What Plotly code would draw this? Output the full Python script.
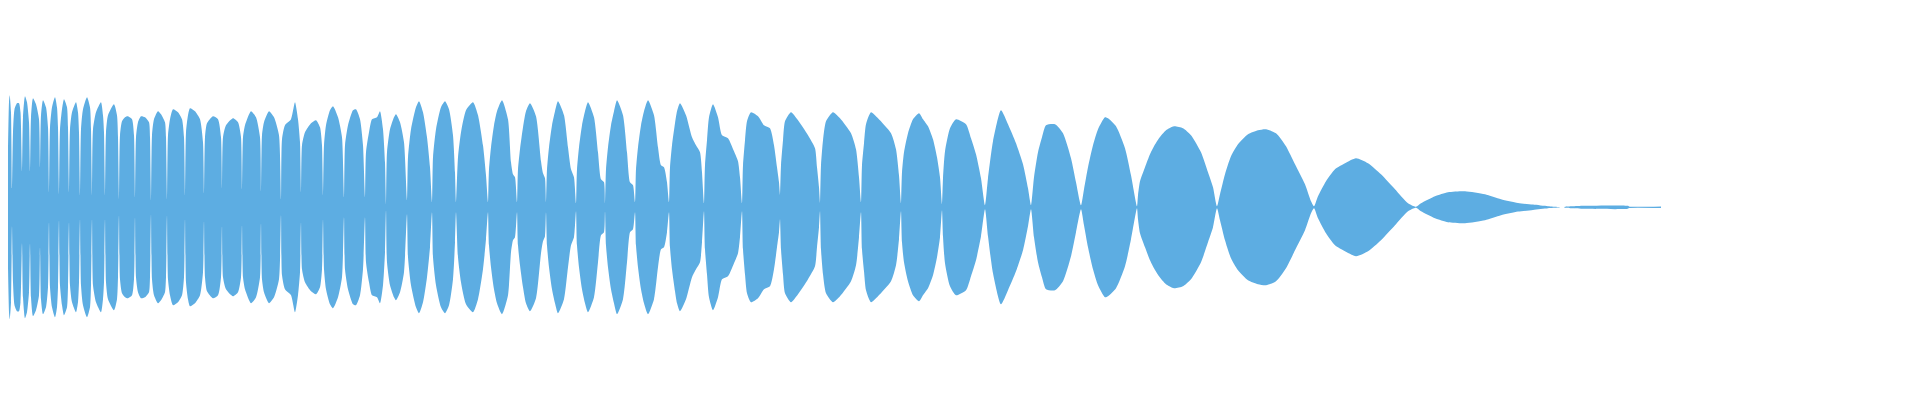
import plotly.graph_objects as go

# Upper envelope of the waveform (time in sample columns, peak amplitude).
t = [
    0, 1, 1.7, 3, 4,
    5, 6.5, 9, 11, 12.5, 14,
    15, 17, 19, 21, 22,
    23, 25, 28, 31, 32,
    33, 35, 38, 40, 41,
    42, 44, 47, 49, 50, 51,
    52, 54, 56, 59, 60, 61,
    62, 64, 68, 70, 71, 72,
    73, 75, 79, 82, 83, 84,
    85, 88, 93, 95, 96, 97,
    98, 100, 106, 109, 110, 111,
    112, 114, 117, 120, 124, 126, 127,
    128, 130, 133, 137, 141, 142, 143,
    144, 146, 150, 153, 157, 158, 159,
    160, 162, 165, 170, 174, 176, 177,
    178, 180, 182, 187, 192, 195, 196,
    197, 199, 205, 210, 213, 214,
    215, 218, 225, 230, 233, 234,
    235, 237, 243, 248, 252, 253,
    254, 256, 261, 266, 271, 273,
    274, 277, 283, 287, 290, 292, 293,
    294, 297, 303, 308, 312, 314, 315,
    316, 318, 322, 325, 330, 334, 336,
    337, 340, 345, 348, 352, 355, 357,
    358, 361, 364, 369, 372, 375, 377, 378,
    379, 382, 386, 388, 392, 396, 399,
    400, 403, 408, 411, 415, 419, 422, 424,
    425, 428, 433, 437, 441, 445, 447, 448,
    450, 453, 458, 465, 470, 475, 478, 480,
    481, 483, 486, 489, 494, 500, 503, 505, 507, 509,
    510, 512, 515, 518, 522, 528, 533, 535, 537, 538,
    539, 541, 544, 547, 550, 556, 560, 563, 566, 568,
    569, 571, 574, 577, 580, 586, 590, 593, 596, 597,
    598, 600, 603, 606, 609, 615, 619, 622, 625, 627,
    628, 630, 633, 636, 640, 646, 650, 653, 656, 659, 661,
    662, 664, 667, 669, 672, 678, 684, 688, 692, 694, 696,
    697, 699, 701, 705, 710, 714, 720, 726, 730, 732, 734,
    735, 737, 739, 743, 750, 756, 762, 766, 769, 771, 772,
    773, 775, 777, 783, 790, 800, 807, 809, 811, 812,
    813, 815, 818, 825, 832, 843, 848, 851, 853,
    854, 856, 858, 863, 870, 883, 888, 891, 893,
    894, 896, 900, 905, 911, 915, 920, 925, 929, 932, 934,
    935, 937, 942, 948, 958, 963, 968, 973, 977,
    980, 985, 993, 1000, 1008, 1015, 1020, 1023,
    1026, 1030, 1034, 1038, 1047, 1055, 1063, 1068, 1073,
    1076, 1080, 1085, 1090, 1097, 1100, 1108, 1117, 1123, 1129,
    1130, 1132, 1137, 1142, 1146, 1151, 1158, 1166, 1175, 1183, 1193, 1200, 1205, 1209,
    1212, 1217, 1223, 1230, 1240, 1250, 1258, 1268, 1278, 1287, 1297, 1303, 1306,
    1310, 1318, 1327, 1337, 1348, 1360, 1373, 1387, 1400, 1408,
    1413, 1427, 1440, 1457, 1477, 1493, 1510, 1525, 1540, 1550, 1553, 1556,
    1557, 1564, 1576, 1620, 1621, 1653,
]

amp = [
    60, 105, 112, 95, 19,
    75, 98, 104, 104, 95, 36,
    90, 111, 105, 85, 36,
    90, 109, 103, 88, 40,
    92, 107, 100, 80, 15,
    80, 100, 110, 100, 80, 13,
    78, 98, 108, 100, 80, 15,
    78, 95, 105, 95, 75, 12,
    78, 98, 110, 100, 78, 12,
    78, 95, 105, 92, 75, 12,
    75, 92, 103, 92, 70, 8,
    72, 86, 90, 91, 88, 72, 10,
    70, 85, 91, 90, 85, 70, 7,
    72, 88, 96, 93, 85, 70, 8,
    72, 88, 98, 95, 88, 70, 12,
    75, 92, 99, 96, 88, 65, 14,
    70, 84, 91, 88, 70, 19,
    70, 82, 89, 85, 70, 18,
    70, 82, 96, 90, 70, 16,
    72, 85, 96, 90, 72, 8,
    68, 82, 88, 105, 88, 65, 15,
    62, 75, 84, 87, 80, 62, 12,
    62, 82, 97, 101, 90, 70, 10,
    62, 82, 97, 98, 88, 62, 10,
    55, 75, 88, 90, 96, 78, 45, 3,
    55, 78, 90, 93, 85, 65, 7,
    50, 78, 100, 106, 95, 70, 40, 5,
    50, 78, 100, 106, 98, 72, 35, 5,
    50, 75, 97, 105, 92, 62, 32, 5,
    38, 60, 82, 96, 107, 88, 45, 33, 30, 5,
    38, 58, 80, 96, 104, 91, 46, 34, 29, 5,
    38, 60, 82, 96, 106, 92, 60, 38, 30, 4,
    38, 60, 82, 96, 105, 90, 55, 28, 25, 4,
    38, 60, 82, 96, 107, 92, 55, 25, 22, 5,
    38, 60, 82, 96, 107, 92, 60, 42, 40, 25, 5,
    40, 62, 84, 96, 104, 92, 70, 62, 55, 35, 4,
    42, 67, 90, 103, 90, 72, 69, 56, 46, 30, 4,
    42, 67, 86, 95, 91, 82, 79, 62, 40, 25, 12,
    42, 67, 86, 95, 87, 72, 59, 40, 20, 4,
    42, 67, 86, 95, 89, 74, 58, 30, 5,
    42, 64, 83, 95, 89, 74, 58, 32, 4,
    35, 55, 74, 88, 94, 88, 81, 68, 50, 30, 3,
    29, 56, 79, 88, 83, 69, 53, 29, 2,
    29, 66, 97, 83, 64, 43, 19, 2,
    30, 55, 70, 82, 83, 74, 49, 25, 2,
    18, 40, 62, 78, 90, 89, 81, 59, 32, 1,
    12, 26, 40, 53, 61, 69, 77, 81, 79, 72, 55, 35, 20, 1,
    13, 33, 51, 63, 73, 77, 78, 74, 61, 43, 23, 6, 1,
    11, 26, 38, 44, 49, 44, 33, 18, 4, 0.5,
    4, 11, 15, 16, 13, 8, 4.3, 2.7, 1, 0.3, 0, 0,
    0.5, 1, 1.5, 1.5, 0.8, 0.8,
]

assert len(t) == len(amp)

COLOR = "rgb(93,173,226)"

lower = [-a for a in amp]

fig = go.Figure()
fig.add_trace(go.Scatter(x=t, y=lower, mode="lines",
                         line=dict(width=0, color=COLOR, shape="spline", smoothing=0.6),
                         hoverinfo="skip", showlegend=False))
fig.add_trace(go.Scatter(x=t, y=amp, mode="lines", fill="tonexty", fillcolor=COLOR,
                         line=dict(width=0, color=COLOR, shape="spline", smoothing=0.6),
                         hoverinfo="skip", showlegend=False))

fig.update_layout(
    width=1920, height=400,
    margin=dict(l=0, r=0, t=0, b=0),
    paper_bgcolor="white", plot_bgcolor="white",
    xaxis=dict(range=[0, 1920], visible=False, fixedrange=True),
    yaxis=dict(range=[-200.7, 199.3], visible=False, fixedrange=True),
)

fig.write_html("out.html")
